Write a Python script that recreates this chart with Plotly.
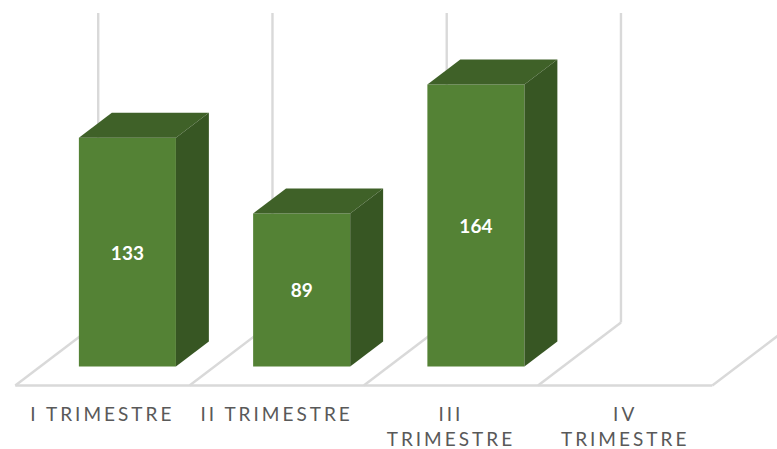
import plotly.graph_objects as go

categories = ["I TRIMESTRE", "II TRIMESTRE", "III<br>TRIMESTRE", "IV<br>TRIMESTRE"]
values = [133, 89, 164, None]

AXIS_MAX = 180
BAR_WIDTH = 0.557
FLOOR_DX = 0.476      # floor depth in category units
FLOOR_DY = 36.6       # floor depth in value units
BAR_DX = 0.189        # bar depth in category units
BAR_DY = 14.5         # bar depth in value units
FRONT = "#548235"
TOP = "#3F6128"
SIDE = "#375623"
GRID = "#D9D9D9"

off_x = (FLOOR_DX - BAR_DX) / 2
off_y = (FLOOR_DY - BAR_DY) / 2
floor_front = -off_y
floor_back = floor_front + FLOOR_DY
wall_top = floor_back + AXIS_MAX

bar_x = [i + off_x for i in range(len(values))]

fig = go.Figure()
fig.add_bar(
    x=bar_x, y=values, width=BAR_WIDTH, marker=dict(color=FRONT, line=dict(width=0)),
    text=[str(v) if v is not None else "" for v in values], textposition="inside",
    insidetextanchor="middle", textangle=0,
    textfont=dict(family="Lato", size=19, color="white", weight="bold"),
    hoverinfo="skip", showlegend=False,
)

for cx, v in zip(bar_x, values):
    if v is None:
        continue
    l, r = cx - BAR_WIDTH / 2, cx + BAR_WIDTH / 2
    fig.add_scatter(
        x=[l, r, r + BAR_DX, l + BAR_DX, l], y=[v, v, v + BAR_DY, v + BAR_DY, v],
        mode="lines", fill="toself", fillcolor=TOP, line=dict(width=0),
        hoverinfo="skip", showlegend=False,
    )
    fig.add_scatter(
        x=[r, r + BAR_DX, r + BAR_DX, r, r], y=[0, BAR_DY, v + BAR_DY, v, 0],
        mode="lines", fill="toself", fillcolor=SIDE, line=dict(width=0),
        hoverinfo="skip", showlegend=False,
    )

shapes = []
n = len(categories)
line = dict(color=GRID, width=2.4)
common = dict(type="line", xref="x", yref="y", layer="below", line=line)
shapes.append(dict(x0=-0.5, x1=n - 0.5, y0=floor_front, y1=floor_front, **common))
for i in range(n + 1):
    fx = i - 0.5
    shapes.append(dict(x0=fx, x1=fx + FLOOR_DX, y0=floor_front, y1=floor_back, **common))
    if i < n:
        shapes.append(dict(x0=fx + FLOOR_DX, x1=fx + FLOOR_DX, y0=floor_back, y1=wall_top, **common))

PX_PER_CAT = 174.25
PX_PER_VAL = 1.72
W, H = 777, 449
BOTTOM = 60
cx0 = 102.4
base_px = 366.5
fig.update_layout(
    width=W, height=H, margin=dict(l=0, r=0, t=0, b=BOTTOM, pad=0, autoexpand=False),
    paper_bgcolor="white", plot_bgcolor="white", shapes=shapes, showlegend=False,
    xaxis=dict(
        range=[-cx0 / PX_PER_CAT, (W - cx0) / PX_PER_CAT], tickmode="array",
        tickvals=list(range(n)), ticktext=categories, tickangle=0,
        showgrid=False, zeroline=False, showline=False, ticks="outside",
        ticklen=8, tickwidth=0, tickcolor="rgba(0,0,0,0)",
        tickfont=dict(family="Lato", size=19, color="#595959"), automargin=False,
    ),
    yaxis=dict(
        range=[(base_px - (H - BOTTOM)) / PX_PER_VAL, base_px / PX_PER_VAL],
        showgrid=False, zeroline=False, showline=False, showticklabels=False, ticks="",
        automargin=False,
    ),
)

post = """
document.body.style.margin = '0';
document.querySelectorAll('.xtick text').forEach(function (t) {
  t.style.letterSpacing = '3px';
});
"""
fig.write_html("out.html", post_script=post, config={"displayModeBar": False})
